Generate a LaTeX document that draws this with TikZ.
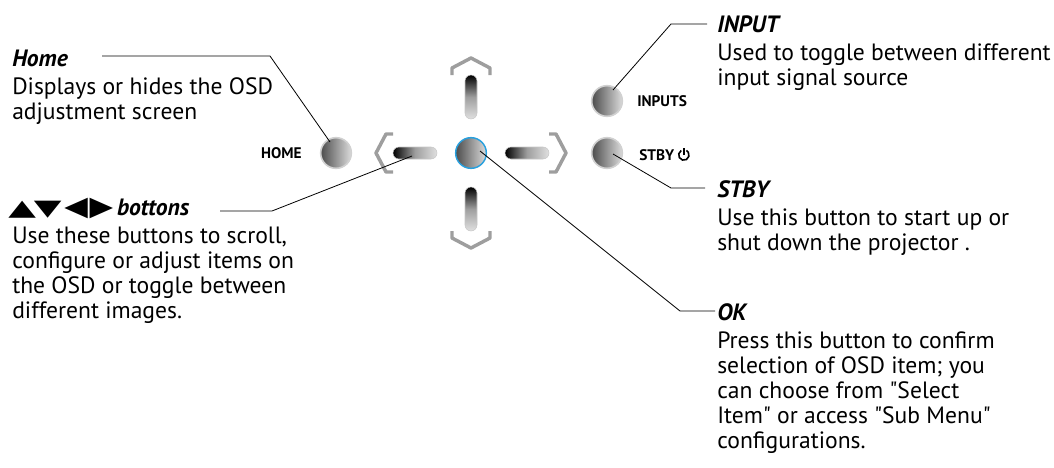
\documentclass[tikz,border=0pt]{standalone}
\usepackage{fontspec}
\setmainfont{PT Sans}[Ligatures=TeXOff]
\newfontfamily\symfont{DejaVu Sans}
\definecolor{bracketgray}{RGB}{158, 158, 158}
\definecolor{okblue}{RGB}{40, 160, 222}
\usetikzlibrary{positioning}

\begin{document}
\begin{tikzpicture}[x=0.75pt, y=-0.75pt,
        button/.style={circle, minimum size=23pt, inner sep=0pt, outer sep=0pt, left color=black!70, right color=black!14, draw=black!18, line width=1.2pt},
        hbar/.style={rectangle, rounded corners=4.5pt, minimum width=33pt, minimum height=9pt, inner sep=0pt, outer sep=0pt, left color=black, right color=black!12, middle color=black!38, draw=black!22, line width=0.4pt},
        vbar/.style={rectangle, rounded corners=4.5pt, minimum width=9pt, minimum height=33pt, inner sep=0pt, outer sep=0pt, top color=black, bottom color=black!12, middle color=black!38, draw=black!22, line width=0.4pt},
        bracket/.style={draw=bracketgray, line width=2.6pt, line join=round},
        keylabel/.style={font=\bfseries\fontsize{11.5pt}{12pt}\selectfont, inner sep=0pt},
        heading/.style={font=\bfseries\itshape\fontsize{17.7pt}{18.75pt}\selectfont, inner sep=0pt, anchor=base west},
        desc/.style={font=\fontsize{17.7pt}{18.75pt}\selectfont, align=left, inner sep=0pt, anchor=north west},
        leader/.style={line width=0.6pt, black}
    ]
    \useasboundingbox (0,0) rectangle (1054,468);

    % keypad
    \node[button] (homebtn) at (336,153) {};
    \node[button, draw=okblue, line width=1.1pt] (okbtn) at (471,153) {};
    \node[button] (inputbtn) at (607,101) {};
    \node[button] (stbybtn) at (607,153) {};
    \node[keylabel, left=14pt of homebtn] (homelbl) {HOME};
    \node[keylabel, right=11pt of inputbtn] (inputlbl) {INPUTS};
    \node[keylabel, right=12.5pt of stbybtn, yshift=-1.5pt] (stbylbl) {STBY};
    \coordinate[right=7pt of stbylbl] (power);
    \draw[line width=1.2pt] ([shift={(120:3.9pt)}]power) arc[start angle=120, end angle=420, radius=3.9pt];
    \draw[line width=1.2pt] (power) -- ++(0pt,5.5pt);
    \node[hbar, left=14pt of okbtn] (leftbar) {};
    \node[hbar, right=14pt of okbtn] (rightbar) {};
    \node[vbar, above=14pt of okbtn] (upbar) {};
    \node[vbar, below=14pt of okbtn] (downbar) {};
    \begin{scope}[shift={(okbtn.center)}]
        \foreach \ang in {0,90,180,270}
            \draw[bracket, rotate=\ang] (78,-19) -- (85,-19) -- (95,0) -- (85,19) -- (78,19);
    \end{scope}

    % descriptions
    \node[heading] (hometitle) at (12,66) {Home};
    \node[desc] (homedesc) at ([yshift=-8pt]hometitle.base west) {\rule{0pt}{13pt}Displays or hides the OSD\\adjustment screen};
    \node[heading] (arrowtitle) at (8,215) {{\symfont\mdseries\upshape\fontsize{27pt}{18pt}\selectfont\scalebox{1}[0.62]{▲\kern-1.5pt▼}\kern2pt\scalebox{0.85}[0.75]{◀\kern1.5pt▶}}\kern3pt bottons};
    \node[desc] (arrowdesc) at ([xshift=3pt, yshift=-8pt]arrowtitle.base west) {\rule{0pt}{13pt}Use these buttons to scroll,\\configure or adjust items on\\the OSD or toggle between\\different images.};
    \node[heading] (inputtitle) at (717,32) {INPUT};
    \node[desc] (inputdesc) at ([yshift=-8pt]inputtitle.base west) {\rule{0pt}{13pt}Used to toggle between different\\input signal source};
    \node[heading] (stbytitle) at (717,197) {STBY};
    \node[desc] (stbydesc) at ([yshift=-8pt]stbytitle.base west) {\rule{0pt}{13pt}Use this button to start up or\\shut down the projector .};
    \node[heading] (oktitle) at (717,320) {OK};
    \node[desc] (okdesc) at ([yshift=-8pt]oktitle.base west) {\rule{0pt}{13pt}Press this button to confirm\\selection of OSD item; you\\can choose from "Select\\Item" or access "Sub Menu"\\configurations.};

    % leaders
    \coordinate (homestart) at (102,56);
    \coordinate (homeknee) at (270,56);
    \coordinate (homepin) at (330,142);
    \coordinate (arrowstart) at (220,211);
    \coordinate (arrowknee) at (272,211);
    \coordinate (arrowpin) at (412,156);
    \coordinate (inputstart) at (707,24);
    \coordinate (inputknee) at (671,24);
    \coordinate (inputpin) at (613,90);
    \coordinate (stbystart) at (705,188);
    \coordinate (stbyknee) at (671,188);
    \coordinate (stbypin) at (613,154);
    \coordinate (okstart) at (715,311);
    \coordinate (okknee) at (680,311);
    \coordinate (okpin) at (480,151);
    \draw[leader] (homestart) -- (homeknee) -- (homepin);
    \draw[leader] (arrowstart) -- (arrowknee) -- (arrowpin);
    \draw[leader] (inputstart) -- (inputknee) -- (inputpin);
    \draw[leader] (stbystart) -- (stbyknee) -- (stbypin);
    \draw[leader] (okstart) -- (okknee) -- (okpin);
\end{tikzpicture}
\end{document}
